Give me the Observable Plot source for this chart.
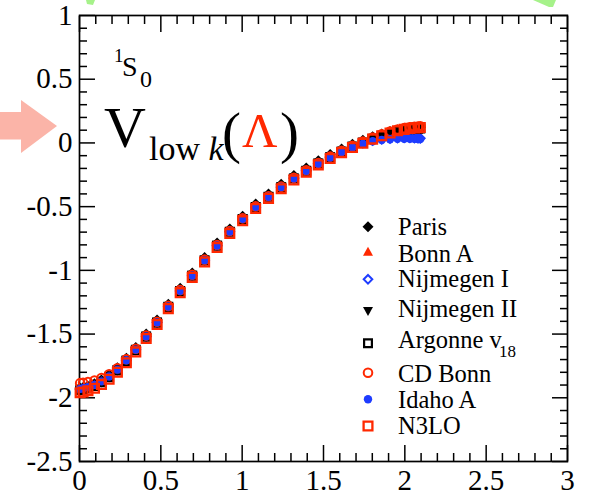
<!DOCTYPE html>
<html><head><meta charset="utf-8">
<script src="https://cdn.jsdelivr.net/npm/d3@7"></script>
<script src="https://cdn.jsdelivr.net/npm/@observablehq/plot@0.6"></script>
<style>
html,body{margin:0;padding:0;background:#fff;}
#chart{width:592px;height:495px;position:relative;overflow:hidden;}
#chart svg text{font-family:'Liberation Serif','Times New Roman',serif;}
</style></head><body><div id="chart"></div>
<script>
// momentum mesh k (fm^-1)
const k = [0.004,0.022,0.052,0.092,0.135,0.182,0.233,0.288,0.346,0.410,0.477,0.546,0.619,0.693,0.769,0.846,0.924,1.003,1.083,1.162,1.240,1.318,1.394,1.468,1.541,1.611,1.678,1.742,1.802,1.858,1.909,1.955,1.996,2.031,2.059,2.081,2.095];
// diagonal V_low k(k,k) in fm for each potential
const paris = [-1.925,-1.920,-1.910,-1.890,-1.860,-1.820,-1.765,-1.690,-1.605,-1.500,-1.390,-1.265,-1.140,-1.020,-0.900,-0.785,-0.675,-0.575,-0.480,-0.400,-0.325,-0.256,-0.196,-0.140,-0.091,-0.047,-0.010,0.022,0.049,0.071,0.089,0.102,0.111,0.117,0.120,0.122,0.123];
const bonnA = [-1.930,-1.925,-1.915,-1.897,-1.868,-1.830,-1.776,-1.702,-1.618,-1.514,-1.404,-1.280,-1.156,-1.036,-0.917,-0.802,-0.693,-0.593,-0.499,-0.419,-0.345,-0.276,-0.216,-0.159,-0.109,-0.064,-0.025,0.009,0.040,0.066,0.087,0.103,0.114,0.121,0.125,0.127,0.128];
const nijmI = [-1.935,-1.930,-1.921,-1.903,-1.875,-1.836,-1.782,-1.708,-1.624,-1.520,-1.410,-1.286,-1.162,-1.042,-0.922,-0.807,-0.698,-0.598,-0.504,-0.424,-0.347,-0.278,-0.219,-0.161,-0.112,-0.068,-0.031,-0.001,0.018,0.029,0.035,0.038,0.040,0.040,0.039,0.038,0.037];
const nijmII = [-1.928,-1.923,-1.913,-1.895,-1.866,-1.828,-1.774,-1.700,-1.616,-1.512,-1.402,-1.278,-1.154,-1.034,-0.915,-0.800,-0.691,-0.591,-0.497,-0.417,-0.342,-0.273,-0.213,-0.156,-0.107,-0.063,-0.025,0.007,0.035,0.058,0.076,0.090,0.099,0.105,0.108,0.110,0.111];
const av18 = [-1.940,-1.935,-1.925,-1.907,-1.878,-1.839,-1.785,-1.711,-1.626,-1.521,-1.411,-1.287,-1.162,-1.042,-0.922,-0.807,-0.697,-0.597,-0.503,-0.423,-0.348,-0.279,-0.219,-0.162,-0.112,-0.067,-0.028,0.004,0.033,0.057,0.076,0.091,0.101,0.107,0.110,0.112,0.113];
const cdBonn = [-1.885,-1.882,-1.876,-1.865,-1.845,-1.815,-1.768,-1.698,-1.615,-1.512,-1.403,-1.279,-1.155,-1.035,-0.916,-0.801,-0.692,-0.592,-0.498,-0.418,-0.343,-0.274,-0.214,-0.157,-0.107,-0.062,-0.023,0.011,0.042,0.068,0.089,0.105,0.116,0.123,0.127,0.129,0.130];
const idahoA = [-1.930,-1.925,-1.916,-1.899,-1.871,-1.833,-1.779,-1.706,-1.622,-1.518,-1.408,-1.284,-1.160,-1.040,-0.920,-0.805,-0.696,-0.596,-0.502,-0.422,-0.346,-0.278,-0.219,-0.162,-0.114,-0.071,-0.035,-0.006,0.013,0.023,0.029,0.032,0.033,0.033,0.032,0.031,0.030];
const n3lo = [-1.960,-1.955,-1.945,-1.925,-1.895,-1.855,-1.800,-1.725,-1.640,-1.535,-1.425,-1.300,-1.175,-1.055,-0.935,-0.820,-0.710,-0.610,-0.515,-0.435,-0.360,-0.290,-0.230,-0.172,-0.122,-0.076,-0.036,-0.002,0.030,0.056,0.078,0.095,0.106,0.114,0.118,0.120,0.121];

const seriesNames = ["Paris","Bonn A","Nijmegen I","Nijmegen II","Argonne v","CD Bonn","Idaho A","N3LO"];
const xTickLabels = [0,0.5,1,1.5,2,2.5,3];
const yTickLabels = [-2.5,-2,-1.5,-1,-0.5,0,0.5,1];

// symbols (size is area; radius-equivalent h)
const R = s => Math.sqrt(s/Math.PI);
const symDiamond = {draw(c,s){const h=R(s);c.moveTo(0,-h);c.lineTo(h,0);c.lineTo(0,h);c.lineTo(-h,0);c.closePath();}};
const symTriUp = {draw(c,s){const h=R(s);c.moveTo(0,-h);c.lineTo(h,h*0.8);c.lineTo(-h,h*0.8);c.closePath();}};
const symTriDown = {draw(c,s){const h=R(s);c.moveTo(0,h);c.lineTo(h,-h*0.8);c.lineTo(-h,-h*0.8);c.closePath();}};
const symSquare = {draw(c,s){const h=R(s);c.moveTo(-h,-h);c.lineTo(h,-h);c.lineTo(h,h);c.lineTo(-h,h);c.closePath();}};
const symCircle = {draw(c,s){const h=R(s);c.moveTo(h,0);c.arc(0,0,h,0,2*Math.PI);c.closePath();}};

const RED = "#ff2800", BLUE = "#1e3cff";
const series = [
  {v: paris,  sym: symDiamond, r: 5.5, fill: "black", stroke: "none", sw: 0},
  {v: bonnA,  sym: symTriUp,   r: 5,   fill: RED,     stroke: "none", sw: 0},
  {v: nijmI,  sym: symDiamond, r: 4.3, fill: "none",  stroke: BLUE,   sw: 2},
  {v: nijmII, sym: symTriDown, r: 5,   fill: "black", stroke: "none", sw: 0},
  {v: av18,   sym: symSquare,  r: 3.9, fill: "none",  stroke: "black",sw: 2.2},
  {v: cdBonn, sym: symCircle,  r: 4.3, fill: "none",  stroke: RED,    sw: 2},
  {v: idahoA, sym: symCircle,  r: 4.2, fill: BLUE,    stroke: "none", sw: 0},
  {v: n3lo,   sym: symSquare,  r: 4.4, fill: "none",  stroke: RED,    sw: 2.3}
];

const SERIF = "'Liberation Serif', 'Times New Roman', serif";
const xMinor = d3.range(0, 31).map(i => i/10).filter(v => Math.round(v*10) % 5 !== 0);
const yMinor = d3.range(-25, 11).map(i => i/10).filter(v => Math.round(Math.abs(v)*10) % 5 !== 0);
const fmt = d => String(d);
const TW = 1.5;

const dotMarks = series.map(s => Plot.dot(k.map((kk,i)=>({k:kk, v:s.v[i]})), {
  x: "k", y: "v", symbol: s.sym, r: s.r, fill: s.fill, stroke: s.stroke, strokeWidth: s.sw
}));

const chart = Plot.plot({
  width: 592, height: 495,
  marginLeft: 79, marginRight: 25, marginTop: 15, marginBottom: 34,
  x: {domain: [0,3], label: null},
  y: {domain: [-2.5,1], label: null},
  style: {fontFamily: SERIF, fontSize: "29px", color: "black", background: "transparent", overflow: "visible"},
  marks: [
    Plot.axisX(xTickLabels, {anchor: "bottom", tickSize: 0, tickPadding: 8, tickFormat: fmt, label: null, fontFamily: SERIF, fontSize: 29}),
    Plot.axisY(yTickLabels, {anchor: "left", tickSize: 0, tickPadding: 7, tickFormat: fmt, label: null, fontFamily: SERIF, fontSize: 29}),
    Plot.axisX(xTickLabels, {anchor: "bottom", tickSize: -16, tickFormat: () => "", strokeWidth: TW, label: null}),
    Plot.axisX(xTickLabels, {anchor: "top", tickSize: -16, tickFormat: () => "", strokeWidth: TW, label: null}),
    Plot.axisX(xMinor, {anchor: "bottom", tickSize: -8, tickFormat: () => "", strokeWidth: TW, label: null}),
    Plot.axisX(xMinor, {anchor: "top", tickSize: -8, tickFormat: () => "", strokeWidth: TW, label: null}),
    Plot.axisY(yTickLabels, {anchor: "left", tickSize: -16, tickFormat: () => "", strokeWidth: TW, label: null}),
    Plot.axisY(yTickLabels, {anchor: "right", tickSize: -16, tickFormat: () => "", strokeWidth: TW, label: null}),
    Plot.axisY(yMinor, {anchor: "left", tickSize: -8, tickFormat: () => "", strokeWidth: TW, label: null}),
    Plot.axisY(yMinor, {anchor: "right", tickSize: -8, tickFormat: () => "", strokeWidth: TW, label: null}),
    Plot.frame({stroke: "black", strokeWidth: 1.7}),
    ...dotMarks
  ]
});
document.getElementById("chart").appendChild(chart);

const svg = d3.select(chart);
// decorative arrows (behind everything)
const bg = svg.insert("g", ":first-child");
bg.append("polygon").attr("points", "0,112 21,112 21,100 57,126 21,153 21,139.5 0,139.5").attr("fill", "#fbb4a8");
bg.append("polygon").attr("points", "86,0 95,0 93,5 87,4").attr("fill", "#a6f28a");
bg.append("polygon").attr("points", "533,0 556,0 553,7 549,7").attr("fill", "#a6f28a");

// annotations
const ann = svg.append("g").attr("font-family", SERIF).attr("fill", "black").attr("text-anchor", "start");
ann.append("text").attr("x", 114).attr("y", 62).attr("font-size", 19).text("1");
ann.append("text").attr("x", 122).attr("y", 76).attr("font-size", 28).text("S");
ann.append("text").attr("x", 140).attr("y", 87).attr("font-size", 24).text("0");
ann.append("text").attr("x", 104).attr("y", 147).attr("font-size", 58).text("V");
const sub = ann.append("text").attr("x", 149).attr("y", 160).attr("font-size", 34);
sub.append("tspan").text("low ");
sub.append("tspan").attr("font-style", "italic").text("k");
ann.append("text").attr("x", 222).attr("y", 152).attr("font-size", 57).text("(");
ann.append("text").attr("x", 242).attr("y", 147).attr("font-size", 49).attr("fill", RED).text("Λ");
ann.append("text").attr("x", 280).attr("y", 152).attr("font-size", 57).text(")");

// legend
const legY = [226.7, 251.7, 279.3, 311, 343.3, 372.7, 399.3, 426];
const legBase = [235, 261.7, 287.3, 317.3, 348.3, 382.3, 408.3, 434];
const leg = svg.append("g").attr("font-family", SERIF).attr("font-size", 24.5).attr("text-anchor", "start");
series.forEach((s, i) => {
  leg.append("path")
    .attr("transform", `translate(368,${legY[i]})`)
    .attr("d", d3.symbol().type(s.sym).size(Math.PI*s.r*s.r)())
    .attr("fill", s.fill).attr("stroke", s.stroke).attr("stroke-width", s.sw);
  leg.append("text").attr("x", 398).attr("y", legBase[i]).text(seriesNames[i]);
});
leg.append("text").attr("x", 499).attr("y", 357).attr("font-size", 17).text("18");
</script></body></html>
